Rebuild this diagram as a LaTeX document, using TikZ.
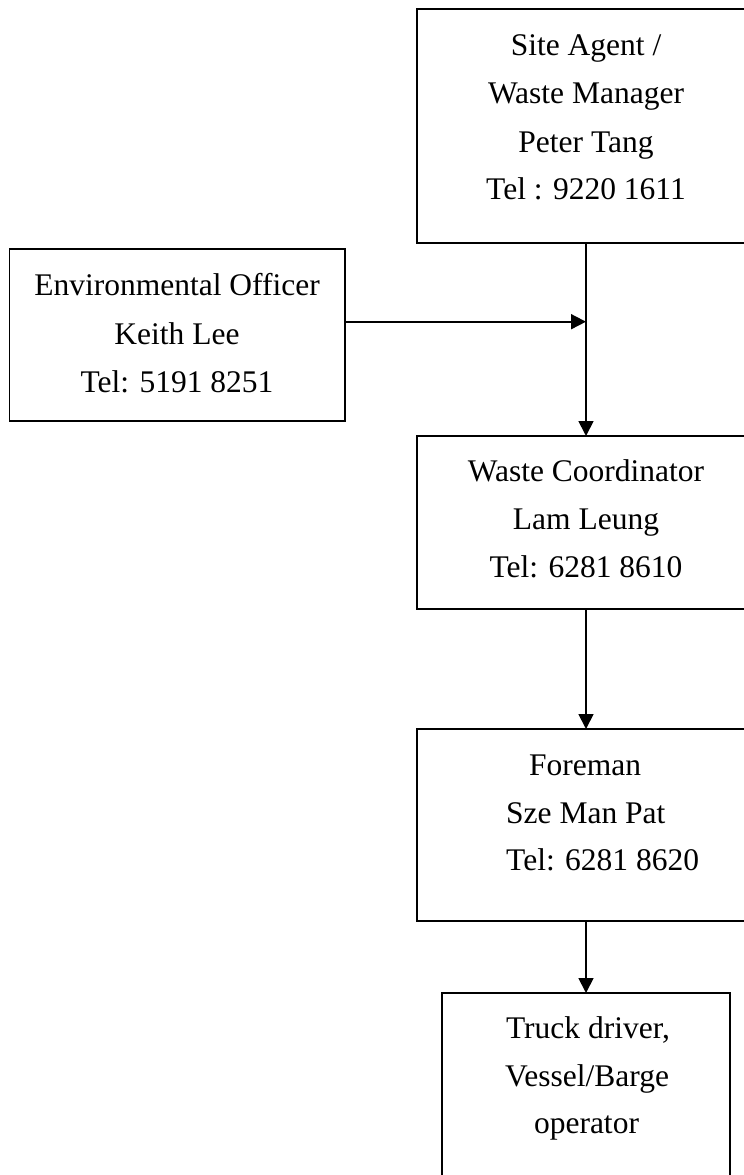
\documentclass[tikz,border=0pt]{standalone}
\usepackage{fontspec}
\setmainfont{Liberation Serif}
\usetikzlibrary{arrows.meta}
\begin{document}
\begin{tikzpicture}[x=1pt,y=-1pt,
  box/.style={draw, line width=1.8pt, inner sep=0pt, outer sep=0pt},
  lbl/.style={font=\fontsize{31.5}{48}\selectfont, inner sep=0pt, anchor=base},
  conn/.style={line width=1.8pt, -{Triangle[length=15pt,width=15pt]}}]
\useasboundingbox (0,0) rectangle (744,1175);
\clip (0,0) rectangle (744,1175);
% boxes
\node[box, minimum width=338pt, minimum height=234pt] (sa) at (586,126) {};
\node[box, minimum width=335.5pt, minimum height=172pt] (eo) at (177.25,335) {};
\node[box, minimum width=338pt, minimum height=173pt] (wc) at (586,522.5) {};
\node[box, minimum width=338pt, minimum height=192pt] (fm) at (586,825) {};
\node[box, minimum width=288pt, minimum height=230pt] (td) at (586,1108) {};
% texts
\node[lbl] (sa1) at (586,55) {Site Agent /};
\node[lbl] (sa2) at (586,103.5) {Waste Manager};
\node[lbl] (sa3) at (586,152.5) {Peter Tang};
\node[lbl] (sa4) at (586,199.5) {Tel : 9220 1611};
\node[lbl] (eo1) at (177,295) {Environmental Officer};
\node[lbl] (eo2) at (177,344) {Keith Lee};
\node[lbl] (eo3) at (177,392.5) {Tel: 5191 8251};
\node[lbl] (wc1) at (586,481.5) {Waste Coordinator};
\node[lbl] (wc2) at (586,529.5) {Lam Leung};
\node[lbl] (wc3) at (586,577.5) {Tel: 6281 8610};
\node[lbl] (fm1) at (585,775.5) {Foreman};
\node[lbl, anchor=base west] (fm2) at (506,823) {Sze Man Pat};
\node[lbl, anchor=base west] (fm3) at (506,870.5) {Tel: 6281 8620};
\node[lbl] (td1) at (588,1038) {Truck driver,};
\node[lbl] (td2) at (587,1086.5) {Vessel/Barge};
\node[lbl] (td3) at (586.5,1133.5) {operator};
% connectors
\coordinate (j) at (586,321.7);
\draw[conn] (sa.south) -- (wc.north);
\draw[conn] (eo.east |- j) -- (j);
\draw[conn] (wc.south) -- (fm.north);
\draw[conn] (fm.south) -- (td.north);
\end{tikzpicture}
\end{document}
